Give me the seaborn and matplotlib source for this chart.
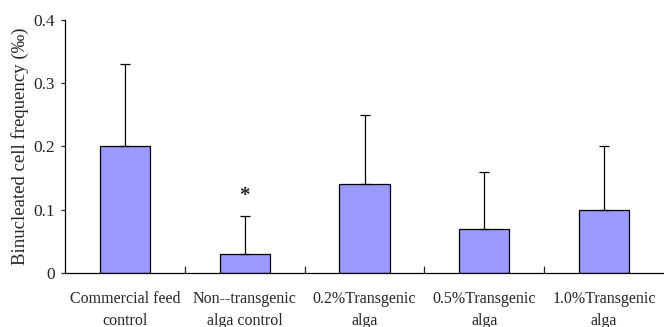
import matplotlib
matplotlib.use("Agg")
import matplotlib.pyplot as plt
import seaborn as sns
import pandas as pd
import numpy as np

categories = ["Commercial feed\ncontrol", "Non--transgenic\nalga control",
              "0.2%Transgenic\nalga", "0.5%Transgenic\nalga", "1.0%Transgenic\nalga"]
values = [0.20, 0.03, 0.14, 0.07, 0.10]
errors = [0.13, 0.06, 0.11, 0.09, 0.10]
yticks = [0, 0.1, 0.2, 0.3, 0.4]
ytick_labels = ["0", "0.1", "0.2", "0.3", "0.4"]

sns.set_style("ticks")
plt.rcParams['font.family'] = ['Liberation Serif', 'DejaVu Serif']

df = pd.DataFrame({"group": categories, "value": values})

fig = plt.figure(figsize=(6.64, 3.27), dpi=100)
ax = fig.add_axes([0.098, 0.165, 0.902, 0.774])

sns.barplot(data=df, x="group", y="value", color="#9999FF", saturation=1,
            edgecolor="black", linewidth=0.9, width=0.42, errorbar=None, ax=ax)
x = np.arange(len(categories))
ax.errorbar(x, values, yerr=[np.zeros(len(errors)), errors], fmt="none",
            ecolor="black", elinewidth=0.9, capsize=3.5, capthick=0.9)
ax.text(1, 0.122, "*", ha="center", va="center", fontsize=15, fontweight="bold")

ax.set_xlim(-0.5, 4.5)
ax.set_ylim(0, 0.4)
ax.set_yticks(yticks)
ax.set_yticklabels(ytick_labels, fontsize=12.5)
ax.set_xticks(x)
ax.set_xticklabels(categories, fontsize=11.5, linespacing=1.45)
ax.tick_params(axis="x", which="major", length=0, pad=13)
ax.set_xticks(np.arange(0.5, 4.5, 1), minor=True)
ax.tick_params(axis="x", which="minor", direction="in", length=5, width=0.9)
ax.tick_params(axis="y", direction="out", length=3, width=0.9, pad=4.5)
ax.set_xlabel("")
ax.set_ylabel("Binucleated cell frequency (‰)", fontsize=13.5, labelpad=3)
for s in ["top", "right"]:
    ax.spines[s].set_visible(False)
for s in ["left", "bottom"]:
    ax.spines[s].set_linewidth(0.9)
    ax.spines[s].set_color("black")

fig.savefig("out.png", dpi=100)
